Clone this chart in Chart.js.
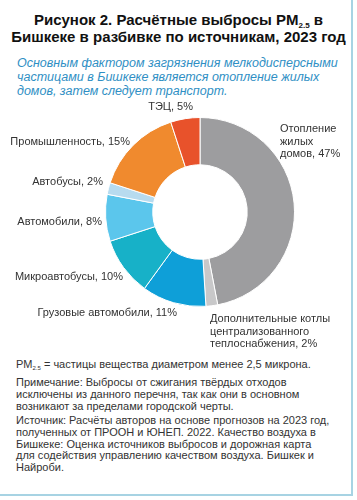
<!DOCTYPE html>
<html><head><meta charset="utf-8">
<script src="https://cdn.jsdelivr.net/npm/chart.js@4"></script>
<style>
html,body{margin:0;padding:0;background:#fff;}
body{width:357px;height:500px;position:relative;overflow:hidden;font-family:"Liberation Sans",Arial,sans-serif;color:#333;}
#frame{position:absolute;left:-2px;top:-2px;width:355px;height:498px;border-right:2px solid #a7d3e3;border-bottom:2px solid #a7d3e3;box-sizing:border-box;}
#title{position:absolute;left:0;width:357px;top:11px;text-align:center;font-weight:bold;font-size:15px;line-height:17px;color:#111;}
#title sub{font-size:8px;vertical-align:-3px;line-height:0;}
#sub{position:absolute;left:17px;top:56px;font-style:italic;font-size:12.5px;line-height:14px;color:#2f8fc4;}
#cwrap{position:absolute;left:0;top:98px;width:357px;height:256px;}
.foot{position:absolute;left:16px;font-size:11px;line-height:11.8px;color:#333;}
.foot sub{font-size:6px;vertical-align:-2px;line-height:0;}
</style></head>
<body>
<div id="frame"></div>
<div id="title">Рисунок 2. Расчётные выбросы PM<sub>2.5</sub> в<br>Бишкеке в разбивке по источникам, 2023 год</div>
<div id="sub">Основным фактором загрязнения мелкодисперсными<br>частицами в Бишкеке является отопление жилых<br>домов, затем следует транспорт.</div>
<div id="cwrap"><canvas id="c" width="357" height="256"></canvas></div>
<div class="foot" style="top:359px">PM<sub>2.5</sub> = частицы вещества диаметром менее 2,5 микрона.</div>
<div class="foot" style="top:377px">Примечание: Выбросы от сжигания твёрдых отходов<br>исключены из данного перечня, так как они в основном<br>возникают за пределами городской черты.</div>
<div class="foot" style="top:415px">Источник: Расчёты авторов на основе прогнозов на 2023 год,<br>полученных от ПРООН и ЮНЕП. 2022. Качество воздуха в<br>Бишкеке: Оценка источников выбросов и дорожная карта<br>для содействия управлению качеством воздуха. Бишкек и<br>Найроби.</div>
<script>
const categories = ["Отопление жилых домов","Дополнительные котлы централизованного теплоснабжения","Грузовые автомобили","Микроавтобусы","Автомобили","Автобусы","Промышленность","ТЭЦ"];
const values = [47, 2, 11, 10, 8, 2, 15, 5];
const labelLines = [
  ["Отопление","жилых","домов, 47%"],
  ["Дополнительные котлы","централизованного","теплоснабжения, 2%"],
  ["Грузовые автомобили, 11%"],
  ["Микроавтобусы, 10%"],
  ["Автомобили, 8%"],
  ["Автобусы, 2%"],
  ["Промышленность, 15%"],
  ["ТЭЦ, 5%"]
];
const colors = ["#9d9d9f","#c8c8c9","#0e9fd8","#17b1c8","#5bc6ec","#b7dbef","#f08a2e","#e8522b"];
// label placement relative to the doughnut centre (dx, dy of first line, text alignment)
const labelPlace = [
  [80,-83,"left"],[10,107,"left"],[-23,101,"right"],[-77,65,"right"],
  [-98,10,"right"],[-97,-30,"right"],[-70,-70,"right"],[-7,-105,"right"]
];
const outsideLabels = {
  id:"outsideLabels",
  afterDatasetsDraw(chart){
    const ctx = chart.ctx;
    const arc0 = chart.getDatasetMeta(0).data[0];
    const cx = arc0.x, cy = arc0.y;
    ctx.save();
    ctx.font = "11px 'Liberation Sans', Arial, sans-serif";
    ctx.fillStyle = "#333";
    ctx.textBaseline = "middle";
    labelLines.forEach((lines,i)=>{
      const p = labelPlace[i];
      ctx.textAlign = p[2];
      lines.forEach((t,j)=>ctx.fillText(t, cx+p[0], cy+p[1]+j*12.5));
    });
    ctx.restore();
  }
};
new Chart(document.getElementById("c"),{
  type:"doughnut",
  data:{labels:categories,datasets:[{data:values,backgroundColor:colors,borderColor:"#fff",borderWidth:1}]},
  options:{
    responsive:false,animation:false,cutout:"50%",
    layout:{padding:{left:105,right:62,top:19,bottom:47}},
    plugins:{legend:{display:false},tooltip:{enabled:false}}
  },
  plugins:[outsideLabels]
});
</script>
</body></html>
